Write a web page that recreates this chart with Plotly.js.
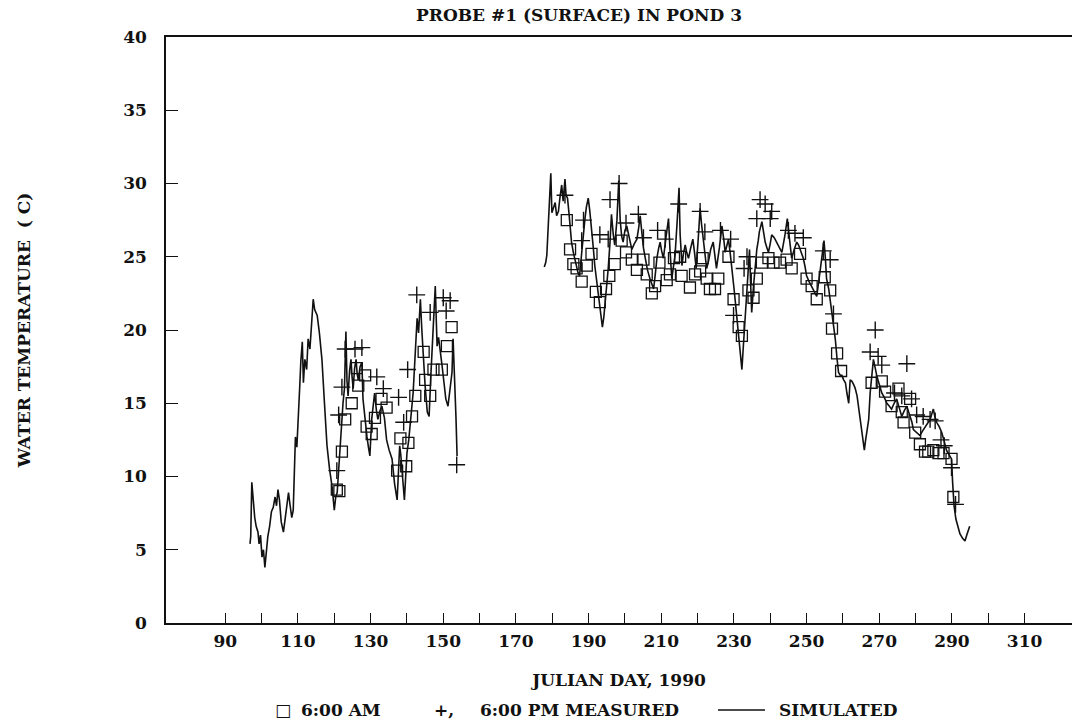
<!DOCTYPE html>
<html>
<head>
<meta charset="utf-8">
<script src="https://cdn.plot.ly/plotly-3.0.1.min.js"></script>
<style>html,body{margin:0;padding:0;background:#fff;}#chart{width:1075px;height:726px;}</style>
</head>
<body>
<div id="chart"></div>
<script>
// Simulated water temperature, first period (Julian day, deg C)
const simDays1 = [96.8,97.0,97.3,97.7,98.1,98.5,99.0,99.3,99.7,100.1,100.5,100.9,101.3,101.7,102.2,102.7,103.2,103.7,104.1,104.5,104.9,105.4,
  106.0,106.5,107.0,107.4,107.8,108.3,108.7,109.0,109.3,109.7,110.1,110.5,110.8,111.2,111.5,111.9,112.4,112.8,113.3,113.7,114.2,114.6,115.0,115.3,115.9,116.6,117.3,118.0,118.7,119.4,120.0,120.4,120.8,121.2,121.6,122.0,122.4,122.8,123.2,123.5,123.8,124.2,124.6,124.9,125.2,125.6,126.0,126.3,126.6,127.1,127.6,127.9,128.4,129.0,129.4,129.8,130.3,130.7,131.1,131.6,132.0,132.6,133.1,133.8,134.4,135.1,
  135.9,136.6,137.3,137.7,138.0,138.3,138.6,139.0,139.3,139.7,140.0,140.5,140.9,141.3,141.7,142.2,142.8,143.2,143.7,144.1,144.5,145.0,145.6,146.1,146.6,147.2,147.8,148.1,148.3,148.7,149.2,149.7,150.2,150.7,151.3,151.8,152.4,152.7,153.1,153.5,153.8];
const simTemp1 = [5.4,5.9,9.6,8.0,7.2,6.6,6.2,5.4,6.0,4.5,5.0,3.8,4.8,5.9,6.6,7.6,7.9,8.6,8.0,9.1,8.4,6.9,6.2,7.3,8.4,8.9,8.1,7.2,7.7,9.8,12.7,12.0,14.8,16.2,17.9,19.2,16.4,18.0,17.3,19.4,18.7,20.5,22.1,21.4,21.2,21.0,19.8,18.0,15.0,12.1,10.5,9.3,7.7,8.6,8.9,10.5,12.5,13.5,15.0,16.0,19.9,16.5,15.5,17.2,18.0,16.8,16.0,17.4,18.0,17.0,16.6,17.5,17.8,15.3,14.0,12.7,12.0,11.4,13.9,15.0,15.7,14.5,13.9,14.5,14.8,14.0,12.5,11.8,11.2,9.5,8.4,10.5,12.1,11.5,10.7,9.2,8.4,10.2,11.6,12.5,13.7,14.9,15.7,18.0,20.8,19.8,22.1,20.0,18.2,16.2,14.4,14.1,17.0,20.5,23.0,20.5,18.9,19.5,18.3,17.5,16.4,15.3,14.8,16.0,17.1,19.4,17.0,14.0,11.4];

// Simulated water temperature, second period
const simDays2 = [177.8,178.2,178.5,179.0,179.6,179.9,180.2,180.8,181.2,181.7,182.1,182.6,183.0,183.5,183.8,184.2,184.6,184.9,185.3,185.8,186.2,186.7,187.1,187.5,187.8,188.1,188.6,189.0,189.4,189.9,190.3,190.8,191.3,191.7,192.3,192.9,193.4,193.8,194.2,194.5,195.0,195.4,195.9,196.3,196.8,197.2,197.8,198.3,198.7,199.1,199.5,200.0,200.5,
  201.2,201.9,202.6,203.3,203.8,204.2,204.6,205.1,205.6,206.2,206.9,207.4,207.9,208.4,208.8,209.3,209.7,210.1,210.6,211.3,212.0,212.4,212.9,213.4,213.8,214.4,214.9,215.2,215.7,216.1,216.6,217.0,217.5,218.1,218.7,219.2,219.6,220.2,220.7,221.1,221.6,222.0,222.5,223.1,223.6,224.3,224.8,225.2,
  226.0,226.7,227.2,227.6,228.1,228.5,229.0,229.5,230.0,230.4,231.0,231.6,232.2,232.5,232.8,233.2,233.6,234.0,234.3,234.6,234.9,235.4,235.8,236.3,236.7,237.0,237.7,238.2,238.6,239.1,239.5,240.0,240.4,241.1,241.8,242.5,243.2,244.0,244.7,245.3,245.9,246.6,247.3,247.8,248.2,248.7,249.1,249.6,250.0,250.7,251.4,252.1,252.8,253.5,254.1,254.8,255.2,255.5,
  256.1,256.5,257.0,257.4,257.9,258.4,258.8,259.3,259.7,260.2,260.7,261.1,261.6,262.0,262.5,263.1,263.4,263.9,264.3,264.9,265.5,265.9,266.2,266.6,267.1,267.5,267.7,268.1,268.4,268.9,269.3,270.0,270.7,271.4,272.1,272.8,273.4,274.1,274.8,275.5,276.2,276.9,277.6,278.1,278.5,279.0,279.4,280.3,281.2,281.9,282.6,283.3,284.0,284.5,284.9,285.3,285.8,286.5,287.2,287.9,288.5,289.2,289.9,290.2,290.6,291.1,291.6,292.2,292.9,293.6,294.1,294.5,294.9];
const simTemp2 = [24.3,24.6,25.1,27.5,30.7,28.0,28.3,28.7,27.8,28.1,29.0,29.9,28.8,30.3,29.2,29.0,28.0,27.1,26.0,25.3,24.8,24.2,23.9,23.7,24.6,25.5,26.8,27.6,28.4,29.0,28.2,27.1,25.6,24.4,23.2,22.1,21.0,20.2,20.9,21.7,23.0,24.2,26.0,27.9,26.5,25.8,27.5,30.2,27.5,26.4,26.0,26.8,27.1,26.2,25.5,25.9,26.2,27.0,27.8,26.8,25.6,24.9,24.1,23.5,23.1,22.8,23.9,24.9,25.6,26.0,25.4,24.9,26.3,27.6,25.5,23.5,24.4,25.1,27.5,29.7,26.5,24.4,25.2,25.8,25.3,24.9,25.6,26.2,25.2,24.2,26.3,28.3,27.2,26.2,25.2,24.2,24.8,25.5,26.0,25.0,24.2,25.6,27.1,26.2,25.3,25.8,26.2,25.2,24.2,22.9,21.9,20.3,18.9,17.3,18.5,19.8,21.5,23.0,24.2,25.5,23.2,21.2,23.0,24.3,25.5,26.1,26.7,27.4,26.6,26.0,25.6,25.3,25.9,26.5,26.3,26.0,25.6,25.3,26.4,27.6,26.2,24.9,25.5,26.0,25.8,25.5,25.2,24.9,24.3,23.7,23.3,23.0,22.6,22.3,23.6,24.9,26.1,24.8,23.5,22.8,22.1,21.2,20.3,19.4,18.0,17.1,16.9,16.9,16.6,16.4,15.7,15.0,16.6,16.5,16.2,16.0,15.5,14.8,13.6,12.5,11.8,12.4,13.0,13.9,15.7,16.2,17.0,18.0,17.4,16.9,16.3,15.7,15.4,15.0,14.8,14.6,15.0,15.3,14.7,14.1,14.5,14.8,14.4,14.1,13.7,13.2,13.0,12.8,13.1,13.4,13.7,13.9,14.3,14.6,14.1,13.7,13.4,13.0,12.4,11.8,11.5,11.2,9.6,8.0,7.1,6.6,6.1,5.8,5.6,6.0,6.4,6.6];

// Measured 6:00 AM
const amDays = [120.7,121.4,122.1,123.0,124.8,126.2,126.6,128.5,128.9,130.3,131.2,133.0,134.4,137.3,138.2,139.8,140.4,141.4,142.3,144.6,145.0,146.4,147.3,149.6,151.0,152.3,
  184.0,184.9,185.8,186.7,188.1,189.5,190.8,192.0,193.1,194.8,195.7,197.2,199.1,200.3,201.9,203.3,205.1,206.0,207.4,208.3,209.5,211.5,212.4,213.5,215.2,215.6,217.9,219.3,220.7,221.4,222.5,223.4,224.8,225.7,228.5,229.9,231.3,232.2,234.0,235.4,236.3,237.7,239.5,240.9,242.7,244.5,245.9,248.2,250.0,251.4,252.8,255.0,256.5,257.0,258.4,259.5,267.9,270.7,271.6,273.4,275.3,276.2,276.7,278.5,279.9,281.2,282.6,283.5,284.9,286.3,287.7,289.9,290.4];
const amTemp = [9.1,9.0,11.7,13.9,15.0,17.4,16.2,16.9,13.4,12.9,14.0,15.3,14.7,10.4,12.6,10.7,12.3,14.1,15.5,18.5,16.6,15.5,17.3,17.3,18.9,20.2,
  27.5,25.5,24.5,24.2,23.3,24.4,25.2,22.6,21.9,22.8,23.7,24.5,26.1,25.3,24.8,24.1,24.8,23.8,22.5,23.0,24.6,23.4,23.8,24.9,25.0,23.7,22.9,23.8,24.0,24.9,23.5,22.8,22.8,23.5,25.0,22.1,20.2,19.6,22.7,22.2,23.5,24.6,24.9,24.6,24.6,24.8,24.2,25.2,23.5,23.0,22.1,23.6,22.7,20.1,18.4,17.2,16.4,16.5,15.8,14.8,16.0,14.4,13.7,15.3,13.0,12.2,11.7,11.7,11.8,11.6,11.6,11.2,8.6];

// Measured 6:00 PM
const pmDays = [120.7,121.2,122.1,123.0,125.7,127.6,131.7,133.5,137.7,139.1,140.2,142.7,146.4,150.0,150.8,151.9,153.7,
  183.5,188.6,188.1,193.1,195.4,195.9,198.4,200.3,203.7,205.1,209.0,211.1,214.8,220.7,222.0,226.3,229.1,229.9,232.8,233.6,236.3,237.2,238.6,240.0,240.4,245.0,246.8,249.1,254.6,256.5,257.4,267.5,268.9,269.7,270.7,274.2,276.2,277.6,278.9,280.3,282.1,284.0,285.4,287.0,287.9,289.9,291.0];
const pmTemp = [10.4,14.2,16.1,18.7,18.7,18.8,16.8,16.0,15.4,13.7,17.3,22.4,21.2,22.2,21.3,22.0,10.8,
  29.2,27.5,26.1,26.5,26.2,28.9,30.0,27.3,27.9,26.3,26.8,26.2,28.6,28.1,26.7,26.8,26.2,21.0,24.2,25.0,27.6,28.9,28.6,27.6,28.1,26.8,26.6,26.3,25.4,24.8,21.1,18.5,20.0,18.2,17.6,15.7,15.5,17.7,15.3,14.2,14.1,13.9,13.8,12.5,12.1,10.6,8.1];

// Axis ticks
const xTickVals = [90,100,110,120,130,140,150,160,170,180,190,200,210,220,230,240,250,260,270,280,290,300,310];
const xTickText = ['90','','110','','130','','150','','170','','190','','210','','230','','250','','270','','290','','310'];
const yTickVals = [0,5,10,15,20,25,30,35,40];

const ink = '#111';
const face = 'DejaVu Serif, serif';
const txt = {family: face, size: 17, color: ink, weight: 'bold'};
const nb = '\u00a0';

const traces = [
  {x: simDays1, y: simTemp1, type: 'scatter', mode: 'lines', name: 'SIMULATED',
   line: {color: ink, width: 1.6}, showlegend: false},
  {x: simDays2, y: simTemp2, type: 'scatter', mode: 'lines', name: 'SIMULATED',
   line: {color: ink, width: 1.6}, showlegend: false},
  {x: amDays, y: amTemp, type: 'scatter', mode: 'markers', name: '6:00 AM',
   marker: {symbol: 'square-open', size: 11, color: ink, line: {color: ink, width: 1.3}}, showlegend: false},
  {x: pmDays, y: pmTemp, type: 'scatter', mode: 'markers', name: '6:00 PM MEASURED',
   marker: {symbol: 'cross-thin', size: 12, color: ink, line: {color: ink, width: 1.4}}, showlegend: false}
];

const W = 1075, H = 726, L = 166, R = 3, T = 37, B = 103;
const pw = W - L - R, ph = H - T - B;
const px = v => (v - L) / pw;
const py = v => (H - B - v) / ph;

const layout = {
  width: W, height: H,
  margin: {l: L, r: R, t: T, b: B, pad: 0},
  paper_bgcolor: '#fff', plot_bgcolor: '#fff',
  showlegend: false,
  title: {text: 'PROBE #1 (SURFACE) IN POND 3', x: 579 / W, xanchor: 'center', y: 1 - 15 / H, yanchor: 'middle',
          font: txt},
  xaxis: {range: [73.68, 323.06], showgrid: false, zeroline: false, showline: true, mirror: true,
          linecolor: ink, linewidth: 1.5, ticks: 'inside', ticklen: 10, tickwidth: 1.4, tickcolor: ink,
          tickmode: 'array', tickvals: xTickVals, ticktext: xTickText, ticklabelstandoff: 2,
          tickfont: txt,
          title: {text: 'JULIAN DAY, 1990' + nb.repeat(13), standoff: 24, font: txt}},
  yaxis: {range: [0, 40], showgrid: false, zeroline: false, showline: true, mirror: false,
          linecolor: ink, linewidth: 1.5, ticks: 'inside', ticklen: 12, tickwidth: 1.4, tickcolor: ink,
          tickmode: 'array', tickvals: yTickVals, ticklabelstandoff: 14,
          tickfont: txt,
          title: {text: 'WATER TEMPERATURE' + nb + nb + '(' + nb + 'C)', standoff: 88, font: txt}},
  annotations: [
    {xref: 'paper', yref: 'paper', x: px(283), y: py(710), xanchor: 'center', yanchor: 'middle', text: '□', showarrow: false, font: txt},
    {xref: 'paper', yref: 'paper', x: px(383), y: py(710), xanchor: 'right', yanchor: 'middle', text: '6:00 AM', showarrow: false, font: txt},
    {xref: 'paper', yref: 'paper', x: px(432), y: py(710), xanchor: 'left', yanchor: 'middle', text: '+,', showarrow: false, font: txt},
    {xref: 'paper', yref: 'paper', x: px(478), y: py(710), xanchor: 'left', yanchor: 'middle', text: '6:00 PM MEASURED', showarrow: false, font: txt},
    {xref: 'paper', yref: 'paper', x: px(777), y: py(710), xanchor: 'left', yanchor: 'middle', text: 'SIMULATED', showarrow: false, font: txt}
  ],
  shapes: [
    {type: 'line', xref: 'paper', yref: 'paper', x0: px(718), x1: px(765), y0: py(710), y1: py(710), line: {color: ink, width: 1.4}}
  ]
};

Plotly.newPlot('chart', traces, layout, {displayModeBar: false, responsive: false});
</script>
</body>
</html>
